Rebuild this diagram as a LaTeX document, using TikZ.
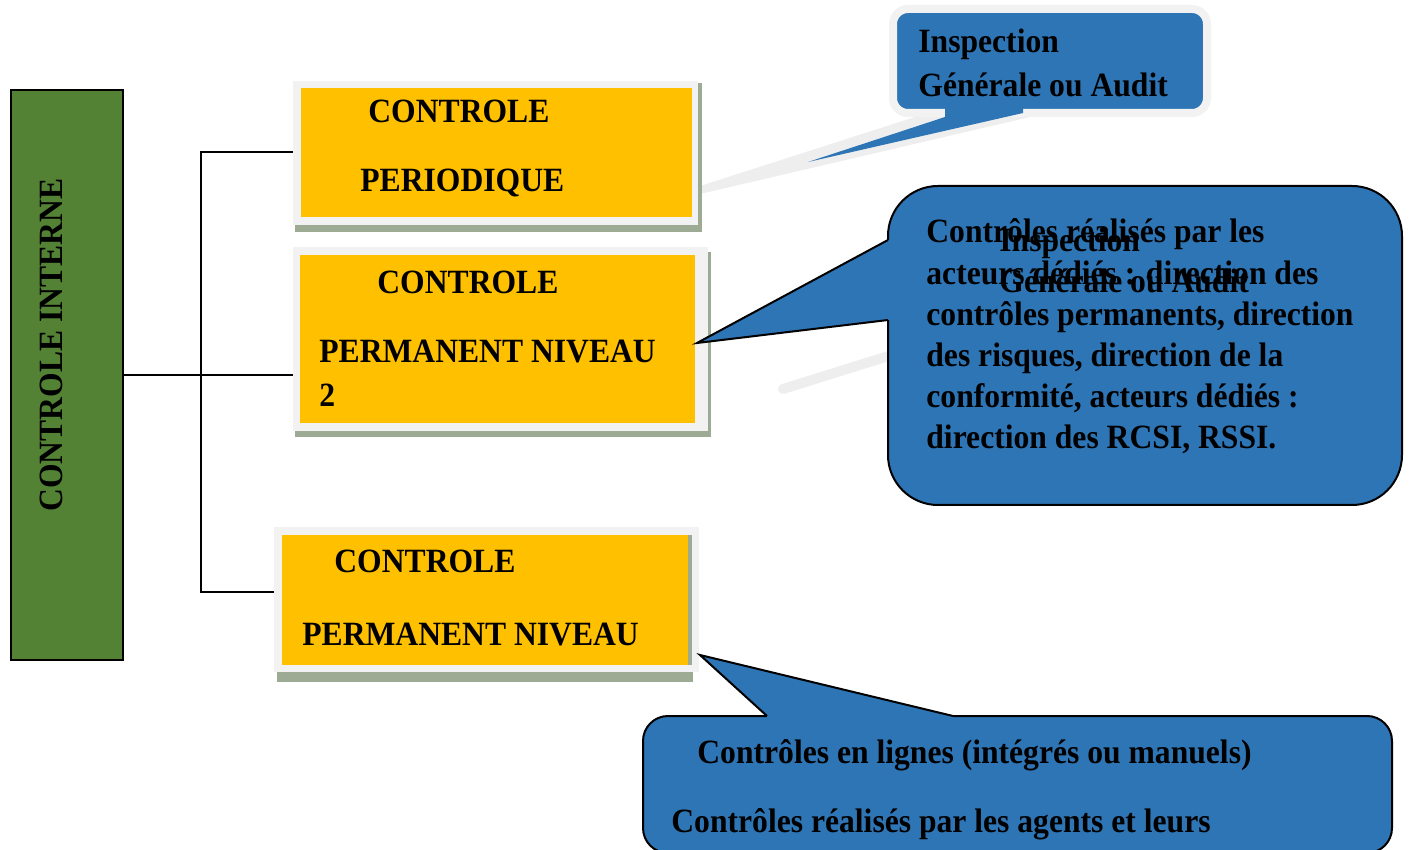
\documentclass[tikz,border=0pt]{standalone}
\usepackage{fontspec}
\newfontfamily\dfont{Liberation Serif}[FakeStretch=0.93]
\definecolor{cyellow}{HTML}{FFC000}
\definecolor{cgreen}{HTML}{548235}
\definecolor{cblue}{HTML}{2E75B6}
\definecolor{cframe}{HTML}{F2F2F2}
\definecolor{cshadow}{HTML}{9DAB94}
\definecolor{cghost}{HTML}{EEEEEE}
\tikzset{
  lbl/.style={anchor=base west, inner sep=0pt, font=\dfont\bfseries\fontsize{17}{20}\selectfont},
  ybox/.style={fill=cyellow, inner sep=0pt, draw=none},
  conn/.style={draw=black, line width=1pt},
  bubble/.style={fill=cblue, draw=black, line width=1pt, inner sep=0pt},
  edge/.style={draw=black, line width=1pt, line join=miter},
}
\begin{document}
\begin{tikzpicture}[x=0.5pt,y=-0.5pt]
\useasboundingbox (0,0) rectangle (1410,850);
\clip (0,0) rectangle (1410,850);

% left block
\node[fill=cgreen, draw=black, line width=1pt, minimum width=56pt, minimum height=285pt, inner sep=0pt] (ci) at (67,375) {};
\node[rotate=90, inner sep=0pt, font=\dfont\bfseries\fontsize{17}{20}\selectfont] (cit) at (51,345) {CONTROLE INTERNE};

% junction points of the tree
\coordinate (jtop) at (201,152);
\coordinate (jmid) at (201,375);
\coordinate (jbot) at (201,592);

% yellow boxes (anchors only; drawn below)
\path (496.5,152.5) node[minimum width=195.5pt, minimum height=64.5pt, inner sep=0pt] (b1) {};
\path (497.5,339) node[minimum width=197.5pt, minimum height=84pt, inner sep=0pt] (b2) {};
\path (485,600) node[minimum width=203pt, minimum height=65pt, inner sep=0pt] (b3) {};

% tree connectors
\draw[conn] (ci.east |- jmid) -- (jmid) -- (b2.west |- jmid);
\draw[conn] (b1.west |- jtop) -- (jtop) -- (jbot) -- (b3.west |- jbot);

% ghost wedges behind the boxes
\fill[cghost] (700,186) -- (915,117) -- (1030,117) -- (700,194) -- cycle;
\draw[cghost, line width=5pt, line cap=round] (783,389) -- (895,354);

% box 1
\fill[cshadow] (295,83) rectangle (702,232);
\fill[cframe] (293,81) rectangle (698,225);
\fill[cyellow] (301,88) rectangle (692,217);
% box 2
\fill[cshadow] (295,252) rectangle (711,437);
\fill[cframe] (293,247) rectangle (708,431);
\fill[cyellow] (300,255) rectangle (695,423);
% box 3
\fill[cshadow] (277,535) rectangle (693,682);
\fill[cframe] (274,527) rectangle (699,672);
\fill[cyellow] (282,535) rectangle (688,665);
\fill[cshadow] (688,535) rectangle (692,665);

\node[lbl] (b1a) at (368,123) {CONTROLE};
\node[lbl] (b1b) at (360,192) {PERIODIQUE};
\node[lbl] (b2a) at (377,294) {CONTROLE};
\node[lbl] (b2b) at (319,363) {PERMANENT NIVEAU};
\node[lbl] (b2c) at (319,407) {2};
\node[lbl] (b3a) at (334,573) {CONTROLE};
\node[lbl] (b3b) at (302,645) {PERMANENT NIVEAU};

% callout 1
\node[fill=cblue, draw=cframe, line width=4pt, rounded corners=7.5pt, minimum width=157pt, minimum height=52pt, inner sep=0pt] (c1) at (1050,61) {};
\fill[cblue] (945,100) -- (945,117) -- (808,162) -- (1023,113) -- (1023,100) -- cycle;
\node[lbl] (c1a) at (918,53) {Inspection};
\node[lbl] (c1b) at (918,97) {Générale ou Audit};

% callout 2
\node[bubble, rounded corners=25pt, minimum width=257pt, minimum height=159.5pt] (c2) at (1145,345.5) {};
\fill[cblue] (697,343) -- (888,240) -- (894,240) -- (894,320) -- (888,320) -- cycle;
\draw[edge] (888,240) -- (697,343) -- (888,320);
\node[lbl] (g1) at (999,252) {Inspection};
\node[lbl] (g2) at (999,293) {Générale ou Audit};
\node[lbl] (c2a) at (926,243) {Contrôles réalisés par les};
\node[lbl] (c2b) at (926,284.5) {acteurs dédiés : direction des};
\node[lbl] (c2c) at (926,325.5) {contrôles permanents, direction};
\node[lbl] (c2d) at (926,367) {des risques, direction de la};
\node[lbl] (c2e) at (926,408) {conformité, acteurs dédiés :};
\node[lbl] (c2f) at (926,449) {direction des RCSI, RSSI.};

% callout 3
\node[bubble, rounded corners=12.5pt, minimum width=374.5pt, minimum height=68.5pt] (c3) at (1017.5,784.5) {};
\fill[cblue] (700,655) -- (767,716) -- (767,722) -- (953,722) -- (953,716) -- cycle;
\draw[edge] (767,716) -- (700,655) -- (953,716);
\node[lbl] (c3a) at (697,763) {Contrôles en lignes (intégrés ou manuels)};
\node[lbl] (c3b) at (671,832) {Contrôles réalisés par les agents et leurs};
\end{tikzpicture}
\end{document}
